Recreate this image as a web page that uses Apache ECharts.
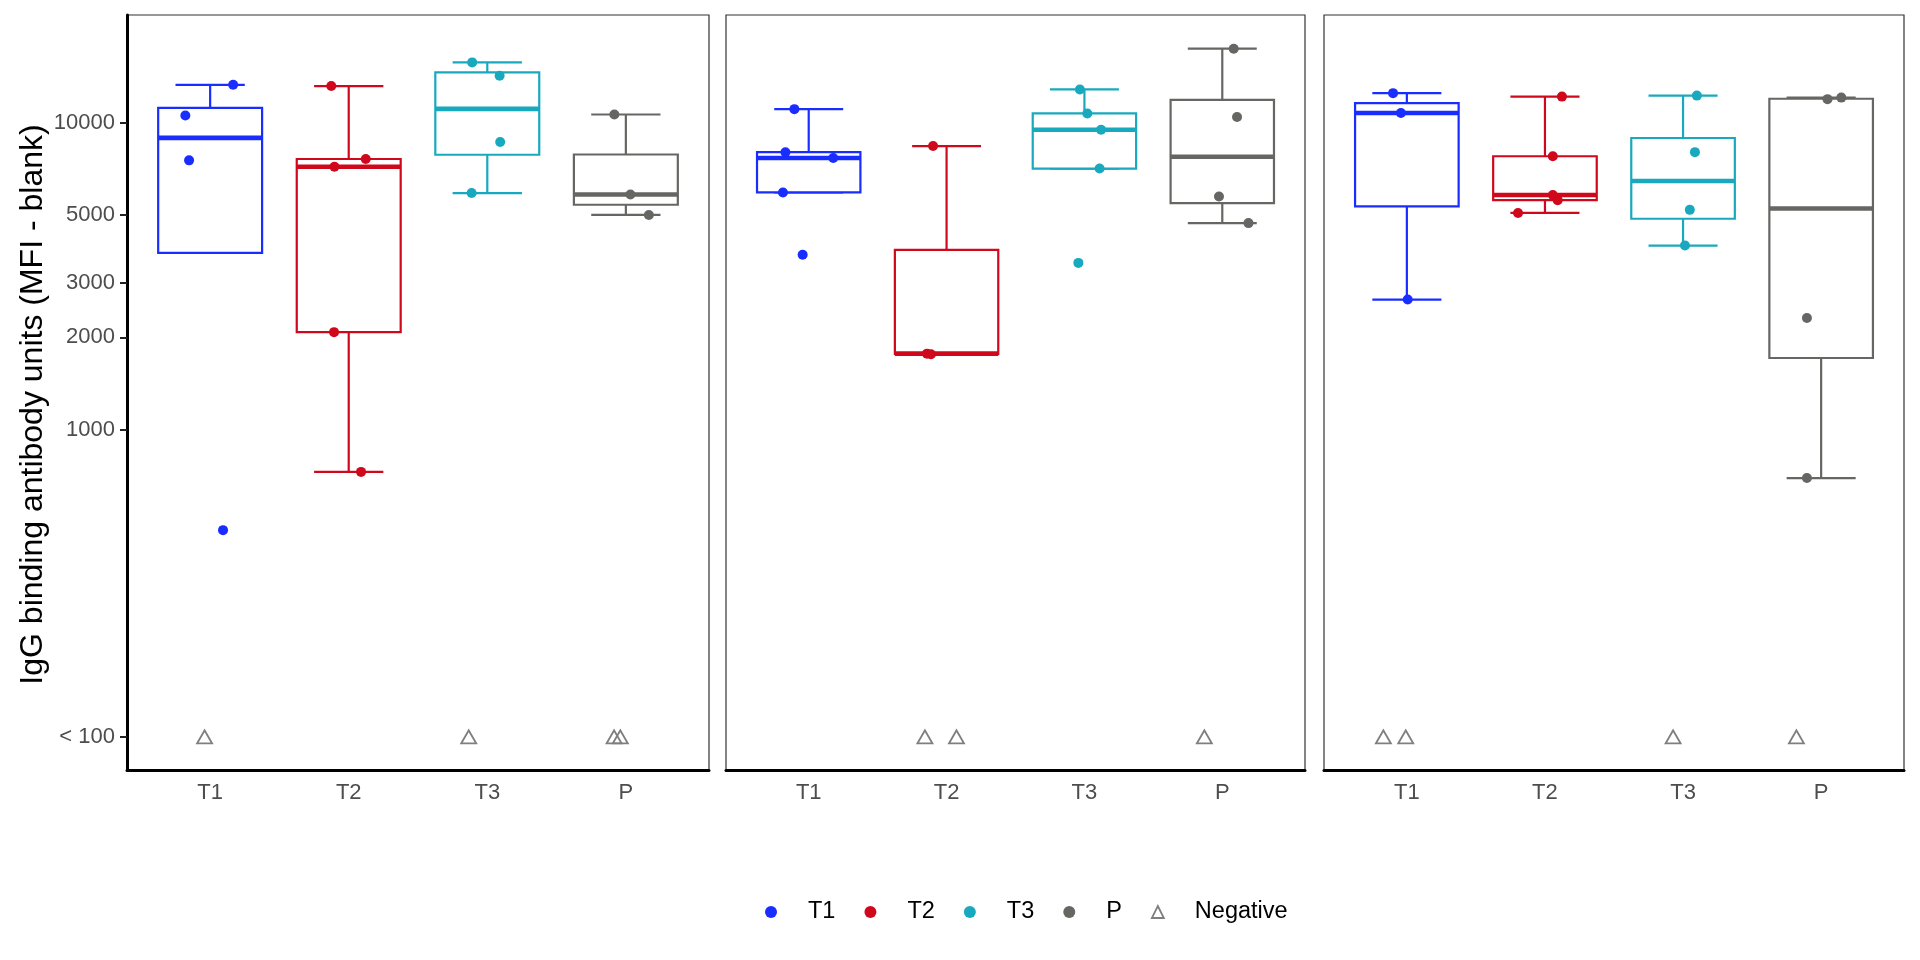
<!DOCTYPE html>
<html>
<head>
<meta charset="utf-8">
<script src="https://cdn.jsdelivr.net/npm/echarts@6/dist/echarts.min.js"></script>
<style>
  html, body { margin: 0; padding: 0; background: #fff; }
  #chart { width: 1920px; height: 960px; }
</style>
</head>
<body>
<div id="chart"></div>
<script>
// ---------------- data ----------------
const groups = ['T1', 'T2', 'T3', 'P'];
const groupColors = ['#1a2dff', '#d0081c', '#19a9be', '#666663'];
const negativeColor = '#7f7f7f';
const yTickValues = [100, 1000, 2000, 3000, 5000, 10000];
const yTickLabels = ['< 100', '1000', '2000', '3000', '5000', '10000'];
const negativeValue = 100;           // negatives are drawn on the "< 100" line
const yMin = 78;
const yMax = 22400;

// panel 1 measured values (per group T1, T2, T3, P) and horizontal jitter offsets
const panel1Values = [[13270, 10546, 7534, 471], [13150, 7610, 7180, 2078, 729], [15700, 14210, 8648, 5896], [10626, 5830, 5004]];
const panel1Jitter = [[0.166, -0.179, -0.152, 0.093], [-0.126, 0.123, -0.103, -0.106, 0.089], [-0.109, 0.089, 0.093, -0.113], [-0.083, 0.033, 0.166]];
const panel1Negatives = [[-0.040], [], [-0.134], [-0.085, -0.040]];

// panel 2
const panel2Values = [[11060, 8010, 7670, 5922, 3714], [8385, 1769, 1760], [12820, 10710, 9476, 7085, 3493], [17400, 10428, 5743, 4706]];
const panel2Jitter = [[-0.104, -0.169, 0.178, -0.187, -0.044], [-0.098, -0.142, -0.113], [-0.033, 0.021, 0.121, 0.110, -0.044], [0.083, 0.107, -0.024, 0.190]];
const panel2Negatives = [[], [-0.157, 0.072], [], [-0.130]];

// panel 3
const panel3Values = [[12470, 10745, 2653], [12150, 7769, 5808, 5591, 5080], [12240, 8011, 5198, 3978], [11920, 12060, 2311, 696]];
const panel3Jitter = [[-0.100, -0.043, 0.006], [0.123, 0.057, 0.057, 0.092, -0.195], [0.100, 0.086, 0.049, 0.014], [0.046, 0.146, -0.103, -0.103]];
const panel3Negatives = [[-0.170, -0.008], [], [-0.072], [-0.179]];

const panels = [
  { values: panel1Values, jitter: panel1Jitter, negatives: panel1Negatives },
  { values: panel2Values, jitter: panel2Jitter, negatives: panel2Negatives },
  { values: panel3Values, jitter: panel3Jitter, negatives: panel3Negatives }
];

// ---------------- boxplot statistics (ggplot style, computed on log10 scale) ----------------
function quantile7(sorted, p) {
  const h = (sorted.length - 1) * p;
  const lo = Math.floor(h), hi = Math.ceil(h);
  return sorted[lo] + (h - lo) * (sorted[hi] - sorted[lo]);
}
function boxStats(values) {
  const logs = values.map(Math.log10).sort((a, b) => a - b);
  const q1 = quantile7(logs, 0.25), q2 = quantile7(logs, 0.5), q3 = quantile7(logs, 0.75);
  const iqr = q3 - q1;
  const inside = logs.filter(v => v >= q1 - 1.5 * iqr && v <= q3 + 1.5 * iqr);
  const lo = Math.min(q1, ...inside), hi = Math.max(q3, ...inside);
  return [lo, q1, q2, q3, hi].map(v => Math.pow(10, v));
}

// ---------------- layout ----------------
const FONT = '"Liberation Sans", Arial, Helvetica, sans-serif';
const gridBoxes = [
  { left: 127, top: 15, width: 582, height: 755 },
  { left: 726, top: 15, width: 579, height: 755 },
  { left: 1324, top: 15, width: 580, height: 755 }
];

function renderBox(params, api) {
  const x = api.value(0);
  const v = [api.value(1), api.value(2), api.value(3), api.value(4), api.value(5)];
  const color = api.visual('color');
  const P = (dx, val) => api.coord([x + dx, val]);
  const L = (a, b, w) => ({
    type: 'line',
    shape: { x1: a[0], y1: a[1], x2: b[0], y2: b[1] },
    style: { stroke: color, lineWidth: w, lineCap: 'butt' }
  });
  const bl = P(-0.375, v[1]);
  const tr = P(0.375, v[3]);
  return {
    type: 'group',
    children: [
      L(P(0, v[3]), P(0, v[4]), 2.2),
      L(P(-0.25, v[4]), P(0.25, v[4]), 2.2),
      L(P(0, v[0]), P(0, v[1]), 2.2),
      L(P(-0.25, v[0]), P(0.25, v[0]), 2.2),
      {
        type: 'rect',
        shape: { x: bl[0], y: tr[1], width: tr[0] - bl[0], height: bl[1] - tr[1] },
        style: { fill: '#ffffff', stroke: color, lineWidth: 2.2 }
      },
      L(P(-0.375, v[2]), P(0.375, v[2]), 4.6)
    ]
  };
}

const grids = [], xAxes = [], yAxes = [], series = [];

gridBoxes.forEach((g, pi) => {
  grids.push(Object.assign({ show: true, borderColor: '#333333', borderWidth: 1.2, backgroundColor: 'transparent', containLabel: false }, g));
  xAxes.push({
    type: 'value', gridIndex: pi, min: 0.4, max: 4.6,
    axisLine: { show: true, onZero: false, lineStyle: { color: '#000', width: 3 } },
    axisTick: { show: false },
    splitLine: { show: false },
    axisLabel: {
      customValues: [1, 2, 3, 4],
      formatter: v => groups[Math.round(v) - 1] || '',
      color: '#4d4d4d', fontSize: 22, fontFamily: FONT, margin: 12
    }
  });
  const yAx = {
    type: 'log', logBase: 10, gridIndex: pi, min: yMin, max: yMax,
    splitLine: { show: false }
  };
  if (pi === 0) {
    Object.assign(yAx, {
      axisLine: { show: true, lineStyle: { color: '#000', width: 3 } },
      axisTick: { show: true, length: 7, customValues: yTickValues, lineStyle: { color: '#222', width: 2 } },
      axisLabel: {
        customValues: yTickValues,
        formatter: v => { const i = yTickValues.findIndex(t => Math.abs(t - v) < 1e-6 * t); return i >= 0 ? yTickLabels[i] : ''; },
        color: '#4d4d4d', fontSize: 22, fontFamily: FONT, margin: 12
      },
      name: 'IgG binding antibody units (MFI - blank)',
      nameLocation: 'middle', nameGap: 78, nameRotate: 90,
      nameTextStyle: { color: '#000', fontSize: 32, fontFamily: FONT, padding: [0, 24, 0, 0] }
    });
  } else {
    Object.assign(yAx, { axisLine: { show: false }, axisTick: { show: false }, axisLabel: { show: false } });
  }
  yAxes.push(yAx);

  const panel = panels[pi];
  // boxes
  groups.forEach((name, gi) => {
    const s = boxStats(panel.values[gi]);
    series.push({
      type: 'custom', name: 'box ' + name, xAxisIndex: pi, yAxisIndex: pi,
      itemStyle: { color: groupColors[gi] },
      renderItem: renderBox,
      encode: { x: 0, y: [1, 2, 3, 4, 5] },
      data: [[gi + 1].concat(s)],
      silent: true, z: 2
    });
  });
  // points
  groups.forEach((name, gi) => {
    series.push({
      type: 'scatter', name: name, xAxisIndex: pi, yAxisIndex: pi,
      symbol: 'circle', symbolSize: 10,
      itemStyle: { color: groupColors[gi], opacity: 1 },
      data: panel.values[gi].map((v, k) => [gi + 1 + panel.jitter[gi][k], v]),
      silent: true, z: 3
    });
  });
  // negatives
  const neg = [];
  groups.forEach((name, gi) => panel.negatives[gi].forEach(dx => neg.push([gi + 1 + dx, negativeValue])));
  series.push({
    type: 'scatter', name: 'Negative', xAxisIndex: pi, yAxisIndex: pi,
    symbol: 'triangle', symbolSize: [15, 13],
    itemStyle: { color: 'rgba(255,255,255,0)', borderColor: negativeColor, borderWidth: 1.8, opacity: 1 },
    data: neg, silent: true, z: 3
  });
});

const chart = echarts.init(document.getElementById('chart'), null, { renderer: 'canvas' });
chart.setOption({
  animation: false,
  backgroundColor: '#ffffff',
  textStyle: { fontFamily: FONT },
  grid: grids,
  xAxis: xAxes,
  yAxis: yAxes,
  legend: {
    left: 760, top: 895, orient: 'horizontal',
    itemWidth: 12, itemHeight: 12, itemGap: 29,
    selectedMode: false,
    textStyle: { color: '#000', fontSize: 23.5, fontFamily: FONT, padding: [0, 0, 0, 26] },
    data: [
      { name: 'T1', icon: 'circle', itemStyle: { color: groupColors[0] } },
      { name: 'T2', icon: 'circle', itemStyle: { color: groupColors[1] } },
      { name: 'T3', icon: 'circle', itemStyle: { color: groupColors[2] } },
      { name: 'P', icon: 'circle', itemStyle: { color: groupColors[3] } },
      { name: 'Negative', icon: 'triangle', itemStyle: { color: 'rgba(255,255,255,0)', borderColor: negativeColor, borderWidth: 1.8 } }
    ]
  },
  series: series
});
</script>
</body>
</html>
